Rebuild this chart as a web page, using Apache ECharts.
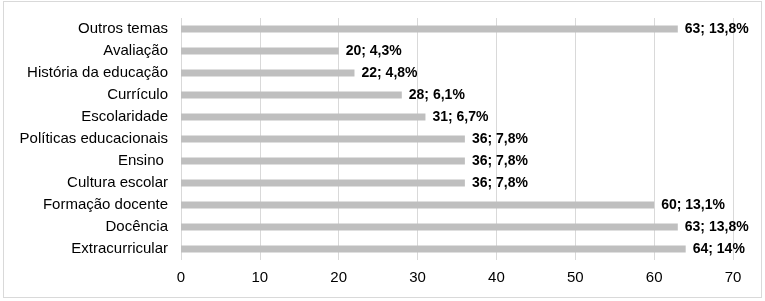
<!DOCTYPE html>
<html>
<head>
<meta charset="utf-8">
<script src="https://cdn.jsdelivr.net/npm/echarts@6/dist/echarts.min.js"></script>
<style>
  html, body { margin: 0; padding: 0; background: #fff; }
  #chart { width: 765px; height: 301px; }
  .frame { position: absolute; left: 3px; top: 1px; width: 757px; height: 295px; border: 1px solid #d9d9d9; pointer-events: none; }
</style>
</head>
<body>
<div id="chart"></div>
<div class="frame"></div>
<script>
  // categories listed bottom-to-top (as the axis draws them)
  const categories = ['Extracurricular', 'Docência', 'Formação docente', 'Cultura escolar', 'Ensino ', 'Políticas educacionais', 'Escolaridade', 'Currículo', 'História da educação', 'Avaliação', 'Outros temas']
  const counts = [64, 63, 60, 36, 36, 36, 31, 28, 22, 20, 63]
  const percents = ['14%', '13,8%', '13,1%', '7,8%', '7,8%', '7,8%', '6,7%', '6,1%', '4,8%', '4,3%', '13,8%']
  const xTicks = [0, 10, 20, 30, 40, 50, 60, 70]

  const myChart = echarts.init(document.getElementById('chart'))
  const option = {
    animation: false,
    grid: { left: 181, right: 32, top: 18, bottom: 41 },
    xAxis: {
      type: 'value',
      min: xTicks[0],
      max: xTicks[xTicks.length - 1],
      interval: 10,
      axisLine: { show: false },
      axisTick: { show: false },
      axisLabel: { color: '#000', fontSize: 15, fontFamily: 'Liberation Sans', margin: 10 },
      splitLine: { show: true, lineStyle: { color: '#d9d9d9', width: 1 } },
    },
    yAxis: {
      type: 'category',
      data: categories,
      axisLine: { show: false },
      axisTick: { show: false },
      axisLabel: { color: '#000', fontSize: 15, fontFamily: 'Liberation Sans', margin: 13 },
    },
    series: [
      {
        type: 'bar',
        data: counts,
        barWidth: 7,
        itemStyle: { color: '#bfbfbf' },
        label: {
          show: true,
          position: 'right',
          distance: 7,
          color: '#000',
          fontSize: 14,
          fontWeight: 'bold',
          fontFamily: 'Liberation Sans',
          formatter: p => p.value + '; ' + percents[p.dataIndex],
        },
      },
    ],
  }
  myChart.setOption(option)
</script>
</body>
</html>
